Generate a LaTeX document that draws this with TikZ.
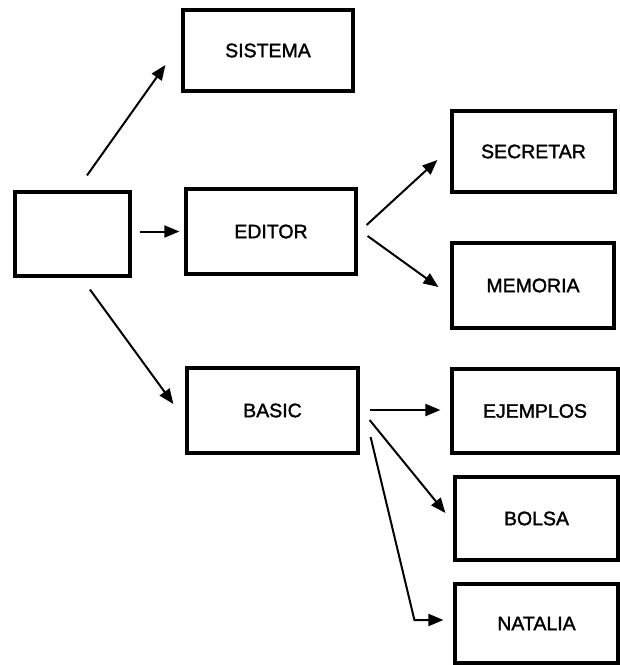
\documentclass[tikz,border=0pt]{standalone}
\usepackage{fontspec}
\setmainfont{Liberation Sans}[BoldFont={Liberation Sans},BoldFeatures={FakeBold=1.6}]
\usetikzlibrary{arrows.meta}
\begin{document}
\begin{tikzpicture}[x=1pt,y=-1pt,
  box/.style={draw, line width=3.2pt, rectangle, inner sep=0pt,
    font=\fontsize{19.5}{22}\selectfont\bfseries},
  arr/.style={line width=2pt, -{Triangle[length=15pt,width=12pt]}}]
\useasboundingbox (0,0) rectangle (620,665);
% boxes
\node[box, minimum width=115pt, minimum height=84pt] (root) at (72.5,234) {};
\node[box, minimum width=170pt, minimum height=81pt] (sis) at (268,50.5) {SISTEMA};
\node[box, minimum width=170pt, minimum height=85pt] (edi) at (271,231.5) {EDITOR};
\node[box, minimum width=171pt, minimum height=85pt] (bas) at (272.5,410.5) {BASIC};
\node[box, minimum width=163pt, minimum height=81pt] (sec) at (533.5,151.5) {SECRETAR};
\node[box, minimum width=162pt, minimum height=85pt] (mem) at (533,285.5) {MEMORIA};
\node[box, minimum width=166pt, minimum height=84pt] (eje) at (535,411) {EJEMPLOS};
\node[box, minimum width=163pt, minimum height=83pt] (bol) at (536.5,518.5) {BOLSA};
\node[box, minimum width=163pt, minimum height=79pt] (nat) at (536.5,623.5) {NATALIA};
% connectors
\draw[arr] ([shift={(14.5,-15)}]root.north) -- ([shift={(-16,14.5)}]sis.west);
\draw[arr] ([shift={(8,-2.5)}]root.east) -- ([shift={(-5,0)}]edi.west);
\draw[arr] ([shift={(17.5,12)}]root.south) -- ([shift={(-12,-6.5)}]bas.west);
\draw[arr] ([shift={(9,-6.5)}]edi.east) -- ([shift={(-13,8.5)}]sec.west);
\draw[arr] ([shift={(10,4.5)}]edi.east) -- ([shift={(-12,1.5)}]mem.west);
\draw[arr] ([shift={(10,-0.5)}]bas.east) -- ([shift={(-10,-1)}]eje.west);
\draw[arr] ([shift={(10,9.5)}]bas.east) -- ([shift={(-8,-5.5)}]bol.west);
\coordinate (natbend) at ([shift={(-39,-3.5)}]nat.west);
\draw[arr] ([shift={(11,26.5)}]bas.east) -- (natbend) -- ([shift={(-10,-3.5)}]nat.west);
\end{tikzpicture}
\end{document}
